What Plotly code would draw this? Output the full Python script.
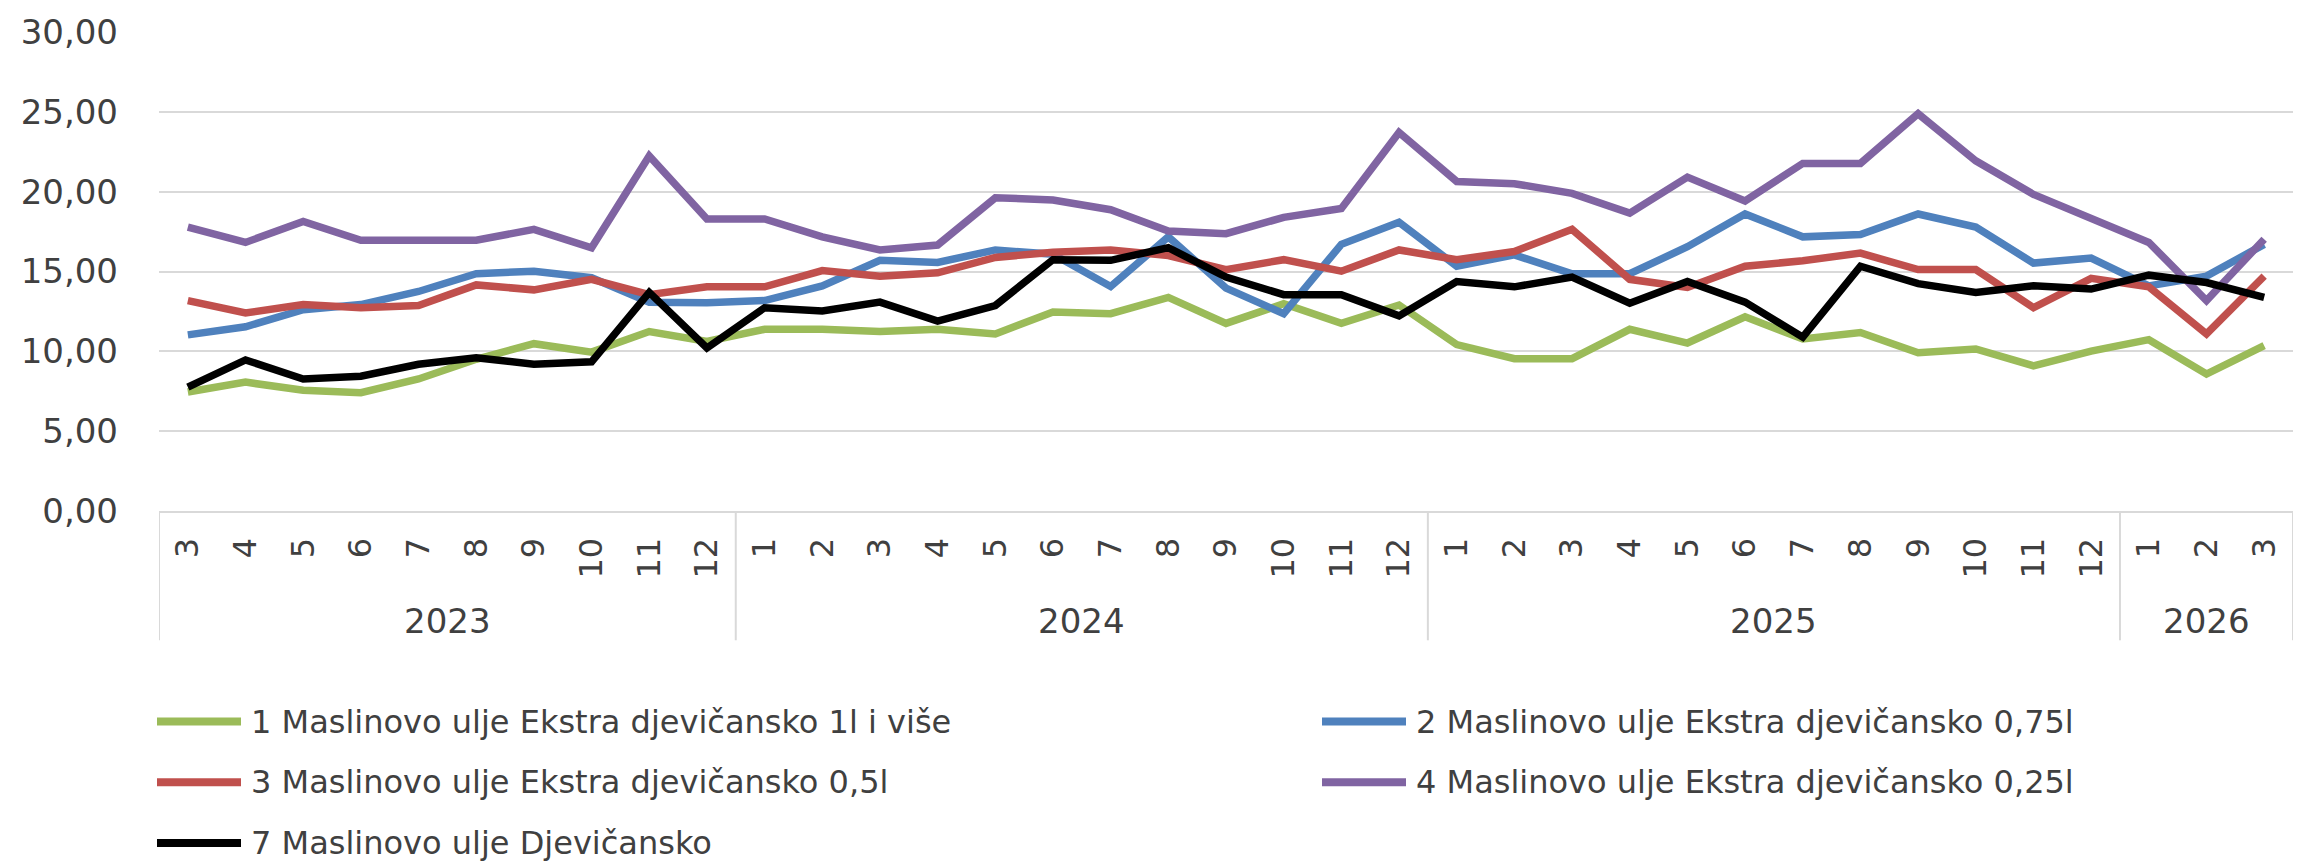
import plotly.graph_objects as go

# Monthly categories (March 2023 – March 2026)
years = ["2023", "2024", "2025", "2026"]
months = (
    ["3", "4", "5", "6", "7", "8", "9", "10", "11", "12"]
    + ["1", "2", "3", "4", "5", "6", "7", "8", "9", "10", "11", "12"]
    + ["1", "2", "3", "4", "5", "6", "7", "8", "9", "10", "11", "12"]
    + ["1", "2", "3"]
)

names = [
    "1 Maslinovo ulje Ekstra djevičansko 1l i više",
    "2 Maslinovo ulje Ekstra djevičansko 0,75l",
    "3 Maslinovo ulje Ekstra djevičansko 0,5l",
    "4 Maslinovo ulje Ekstra djevičansko 0,25l",
    "7 Maslinovo ulje Djevičansko",
]

s1_extra_1l = [7.45, 8.07, 7.56, 7.41, 8.27, 9.50, 10.48, 9.95, 11.24, 10.62,
               11.38, 11.38, 11.24, 11.38, 11.09, 12.47, 12.36, 13.38, 11.75, 12.98, 11.75, 12.90,
               10.42, 9.54, 9.54, 11.38, 10.52, 12.16, 10.77, 11.18, 9.91, 10.15, 9.09, 10.01,
               10.73, 8.58, 10.36]
s2_extra_075 = [11.03, 11.54, 12.61, 12.93, 13.75, 14.86, 15.02, 14.61, 13.08, 13.04,
                13.18, 14.10, 15.70, 15.57, 16.35, 16.08, 14.06, 17.17, 13.96, 12.36, 16.70, 18.09,
                15.33, 16.04, 14.86, 14.86, 16.55, 18.60, 17.17, 17.31, 18.60, 17.78, 15.53, 15.84,
                14.10, 14.71, 16.70]
s3_extra_05 = [13.18, 12.40, 12.93, 12.73, 12.87, 14.16, 13.85, 14.51, 13.55, 14.04,
               14.04, 15.06, 14.71, 14.92, 15.88, 16.21, 16.35, 16.00, 15.12, 15.74, 15.02, 16.35,
               15.74, 16.25, 17.64, 14.51, 14.00, 15.33, 15.67, 16.15, 15.12, 15.12, 12.73, 14.57,
               14.04, 11.09, 14.71]
s4_extra_025 = [17.78, 16.82, 18.13, 16.96, 16.96, 16.96, 17.64, 16.49, 22.24, 18.29,
                18.29, 17.17, 16.35, 16.66, 19.62, 19.48, 18.87, 17.54, 17.37, 18.39, 18.95, 23.71,
                20.64, 20.50, 19.89, 18.66, 20.91, 19.42, 21.77, 21.77, 24.88, 21.93, 19.83, 18.29,
                16.82, 13.18, 17.02]
s7_djevicansko = [7.76, 9.46, 8.27, 8.44, 9.19, 9.60, 9.19, 9.34, 13.69, 10.21,
                  12.73, 12.53, 13.08, 11.89, 12.87, 15.74, 15.70, 16.49, 14.65, 13.55, 13.55, 12.22,
                  14.37, 14.04, 14.65, 13.01, 14.37, 13.08, 10.89, 15.33, 14.24, 13.69, 14.10, 13.90,
                  14.77, 14.31, 13.38]

y_ticks = [0, 5, 10, 15, 20, 25, 30]
y_tick_text = ["0,00", "5,00", "10,00", "15,00", "20,00", "25,00", "30,00"]

series = [s1_extra_1l, s2_extra_075, s3_extra_05, s4_extra_025, s7_djevicansko]
colors = ["#9BBB59", "#4F81BD", "#C0504D", "#8064A2", "#000000"]

# ---- geometry --------------------------------------------------------------
W, H = 2305, 867
ML, MR, MT, MB = 159, 12, 22, 356
PW, PH = W - ML - MR, H - MT - MB
FONT = "DejaVu Sans"
TXT = "#404040"
GRID = "#D9D9D9"


def px_x(px):
    return (px - ML) / PW


def px_y(py):
    return (H - MB - py) / PH


x = list(range(len(months)))

fig = go.Figure()
for name, vals, col in zip(names, series, colors):
    fig.add_trace(go.Scatter(
        x=x, y=vals, name=name, mode="lines",
        line=dict(color=col, width=7.5),
        showlegend=False,
    ))

# year groups: a new group starts whenever the month number wraps to 1
starts = [0] + [i for i in range(1, len(months)) if int(months[i]) < int(months[i - 1])]
ends = starts[1:] + [len(months)]

shapes = []
annotations = []
bottom = px_y(643)
for b in [s - 0.5 for s in starts] + [len(months) - 0.5]:
    shapes.append(dict(type="line", xref="x", yref="paper", x0=b, x1=b,
                       y0=0, y1=bottom, line=dict(color=GRID, width=2)))
for yr, s, e in zip(years, starts, ends):
    annotations.append(dict(x=(s + e - 1) / 2, y=px_y(623), xref="x", yref="paper",
                            text=yr, showarrow=False, xanchor="center", yanchor="middle",
                            font=dict(family=FONT, size=34, color=TXT)))

# legend: two columns, three rows
col_px = [153, 1318]
row_px0, row_step = 726, 62
for k, (name, col) in enumerate(zip(names, colors)):
    r, c = divmod(k, 2)
    x0 = col_px[c]
    yy = px_y(row_px0 + r * row_step)
    shapes.append(dict(type="line", xref="paper", yref="paper",
                       x0=px_x(x0 + 4), x1=px_x(x0 + 88), y0=yy, y1=yy,
                       line=dict(color=col, width=8)))
    annotations.append(dict(x=px_x(x0 + 96), y=yy, xref="paper", yref="paper",
                            text=name, showarrow=False, xanchor="left", yanchor="middle",
                            font=dict(family=FONT, size=32, color=TXT)))

fig.update_layout(
    width=W, height=H,
    margin=dict(l=ML, r=MR, t=MT, b=MB),
    paper_bgcolor="white", plot_bgcolor="white",
    font=dict(family=FONT, size=32, color=TXT),
    shapes=shapes, annotations=annotations,
    xaxis=dict(
        range=[-0.5, len(months) - 0.5],
        tickmode="array", tickvals=x, ticktext=months,
        tickangle=-90, ticks="", ticklabelstandoff=12,
        tickfont=dict(family=FONT, size=32, color=TXT),
        showgrid=False, zeroline=False,
        showline=True, linecolor=GRID, linewidth=2,
    ),
    yaxis=dict(
        range=[0, 30],
        tickmode="array", tickvals=y_ticks, ticktext=y_tick_text,
        ticks="", ticklabelstandoff=40,
        tickfont=dict(family=FONT, size=34, color=TXT),
        showgrid=True, gridcolor=GRID, gridwidth=2,
        zeroline=False, showline=False,
    ),
    showlegend=False,
)

fig.write_html("out.html")
